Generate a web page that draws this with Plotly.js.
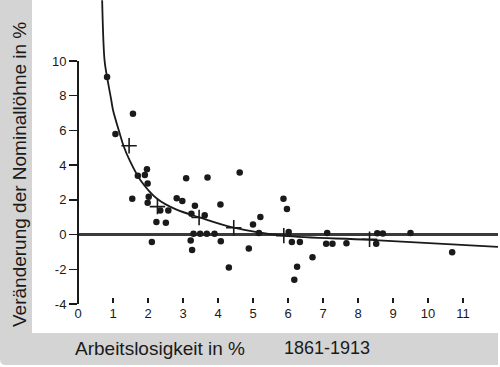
<!DOCTYPE html>
<html><head><meta charset="utf-8">
<script src="https://cdn.plot.ly/plotly-3.0.1.min.js"></script>
<style>html,body{margin:0;padding:0;background:#fff}</style>
</head><body><div id="chart" style="width:500px;height:367px"></div>
<script>
// Scatter points: unemployment (%) vs change of nominal wages (%), 1861-1913
const dotX = [0.83, 1.07, 1.57, 1.55, 1.71, 1.91, 1.97, 1.99, 2.02, 1.99, 2.11, 2.35, 2.24, 2.58, 2.51,
  2.82, 2.98, 3.09, 3.24, 3.34, 3.62, 3.22, 3.26, 3.30, 3.49, 3.68, 3.90, 3.70, 4.07, 4.08, 4.31,
  4.62, 4.88, 5.00, 5.21, 5.17, 5.87, 5.97, 6.02, 6.11, 6.34, 6.26, 6.18, 6.70, 7.12, 7.09, 7.27,
  7.67, 8.55, 8.71, 8.52, 9.50, 10.69];
const dotY = [9.08, 5.79, 6.96, 2.07, 3.39, 3.43, 3.76, 2.95, 2.18, 1.84, -0.43, 1.39, 0.72, 1.39, 0.68,
  2.09, 1.94, 3.24, 1.20, 1.66, 1.11, -0.34, -0.89, 0.05, 0.05, 0.05, 0.05, 3.29, 1.73, -0.38, -1.90,
  3.58, -0.80, 0.58, 1.01, 0.10, 2.06, 1.47, 0.15, -0.43, -0.43, -1.85, -2.60, -1.31, 0.10, -0.52, -0.52,
  -0.50, 0.08, 0.07, -0.52, 0.09, -1.02];
// Group averages (crosses)
const plusX = [1.46, 2.27, 3.46, 4.45, 5.88, 8.33];
const plusY = [5.12, 1.61, 0.99, 0.40, -0.06, -0.27];
// Fitted curve
const curveX = [0.69, 0.76, 0.83, 0.95, 1.0, 1.19, 1.30, 1.47, 1.78, 2.27, 2.8, 3.46, 4.45, 5.87, 8.33, 12.0];
const curveY = [13.5, 10.0, 9.08, 7.75, 7.18, 5.84, 5.12, 4.30, 3.15, 2.05, 1.45, 1.0, 0.40, -0.06, -0.30, -0.70];
// Axis ticks
const yTickVals = [-4, -2, 0, 2, 4, 6, 8, 10];
const yTickText = ['-4', '-2', '0', '2', '4', '6', '8', '10'];
const xTickVals = [0, 1, 2, 3, 4, 5, 6, 7, 8, 9, 10, 11];
const xTickText = ['0', '1', '2', '3', '4', '5', '6', '7', '8', '9', '10', '11'];
const yTitle = 'Veränderung der Nominallöhne in %';
const xTitle = 'Arbeitslosigkeit in %';
const period = '1861-1913';

// layout geometry (pixels)
const W = 500, H = 367, L = 78, R = 2, T = 0, B = 61;
const PW = W - L - R, PH = H - T - B;
const px = x => (x - L) / PW;
const py = y => (H - B - y) / PH;
const FONT = '"Liberation Sans", Arial, Helvetica, sans-serif';
const INK = '#1a1a1a';
const GRAY = '#d4d4d4';

const grayPath = 'M ' + px(0) + ',' + py(0) + ' L ' + px(32) + ',' + py(0) + ' L ' + px(32) + ',' + py(333) +
  ' L ' + px(498) + ',' + py(333) + ' L ' + px(498) + ',' + py(365) + ' L ' + px(6) + ',' + py(365) +
  ' Q ' + px(0) + ',' + py(365) + ' ' + px(0) + ',' + py(359) + ' Z';

const traces = [
  {x: curveX, y: curveY, mode: 'lines', line: {color: INK, width: 1.8, shape: 'spline', smoothing: 1}, hoverinfo: 'skip'},
  {x: dotX, y: dotY, mode: 'markers', marker: {color: INK, size: 6.5}},
  {x: plusX, y: plusY, mode: 'markers', marker: {symbol: 'cross-thin', size: 11, line: {color: INK, width: 1.6}}}
];

const layout = {
  width: W, height: H,
  margin: {l: L, r: R, t: T, b: B, pad: 0},
  paper_bgcolor: '#ffffff', plot_bgcolor: '#ffffff',
  showlegend: false,
  font: {family: FONT, color: INK},
  xaxis: {
    range: [0, 12], anchor: 'free', position: py(296.5),
    showgrid: false, zeroline: false, showline: false,
    tickmode: 'array', tickvals: xTickVals, ticktext: xTickText,
    ticks: 'outside', ticklen: 5, tickwidth: 1.6, tickcolor: INK,
    tickfont: {family: FONT, size: 13, color: INK}
  },
  yaxis: {
    range: [-4.11, 13.51],
    showgrid: false, showline: false,
    zeroline: true, zerolinecolor: '#3a3a3a', zerolinewidth: 2.4,
    tickmode: 'array', tickvals: yTickVals, ticktext: yTickText,
    ticks: 'outside', ticklen: 8, tickwidth: 1.6, tickcolor: INK,
    tickfont: {family: FONT, size: 13, color: INK}
  },
  shapes: [
    {type: 'path', xref: 'paper', yref: 'paper', path: grayPath, fillcolor: GRAY, line: {width: 0}, layer: 'below'},
    {type: 'line', xref: 'paper', yref: 'y', x0: 0, x1: 0, y0: -4, y1: 10, line: {color: INK, width: 2}}
  ],
  annotations: [
    {xref: 'paper', yref: 'paper', x: px(19), y: py(175), text: yTitle, textangle: -90, showarrow: false,
     xanchor: 'center', yanchor: 'middle', font: {family: FONT, size: 19, color: INK}},
    {xref: 'paper', yref: 'paper', x: px(73), y: py(348), text: xTitle, showarrow: false,
     xanchor: 'left', yanchor: 'middle', font: {family: FONT, size: 19, color: INK}},
    {xref: 'paper', yref: 'paper', x: px(282), y: py(348), text: period, showarrow: false,
     xanchor: 'left', yanchor: 'middle', font: {family: FONT, size: 18, color: INK}}
  ]
};

Plotly.newPlot('chart', traces, layout, {displayModeBar: false, staticPlot: true});
</script></body></html>
